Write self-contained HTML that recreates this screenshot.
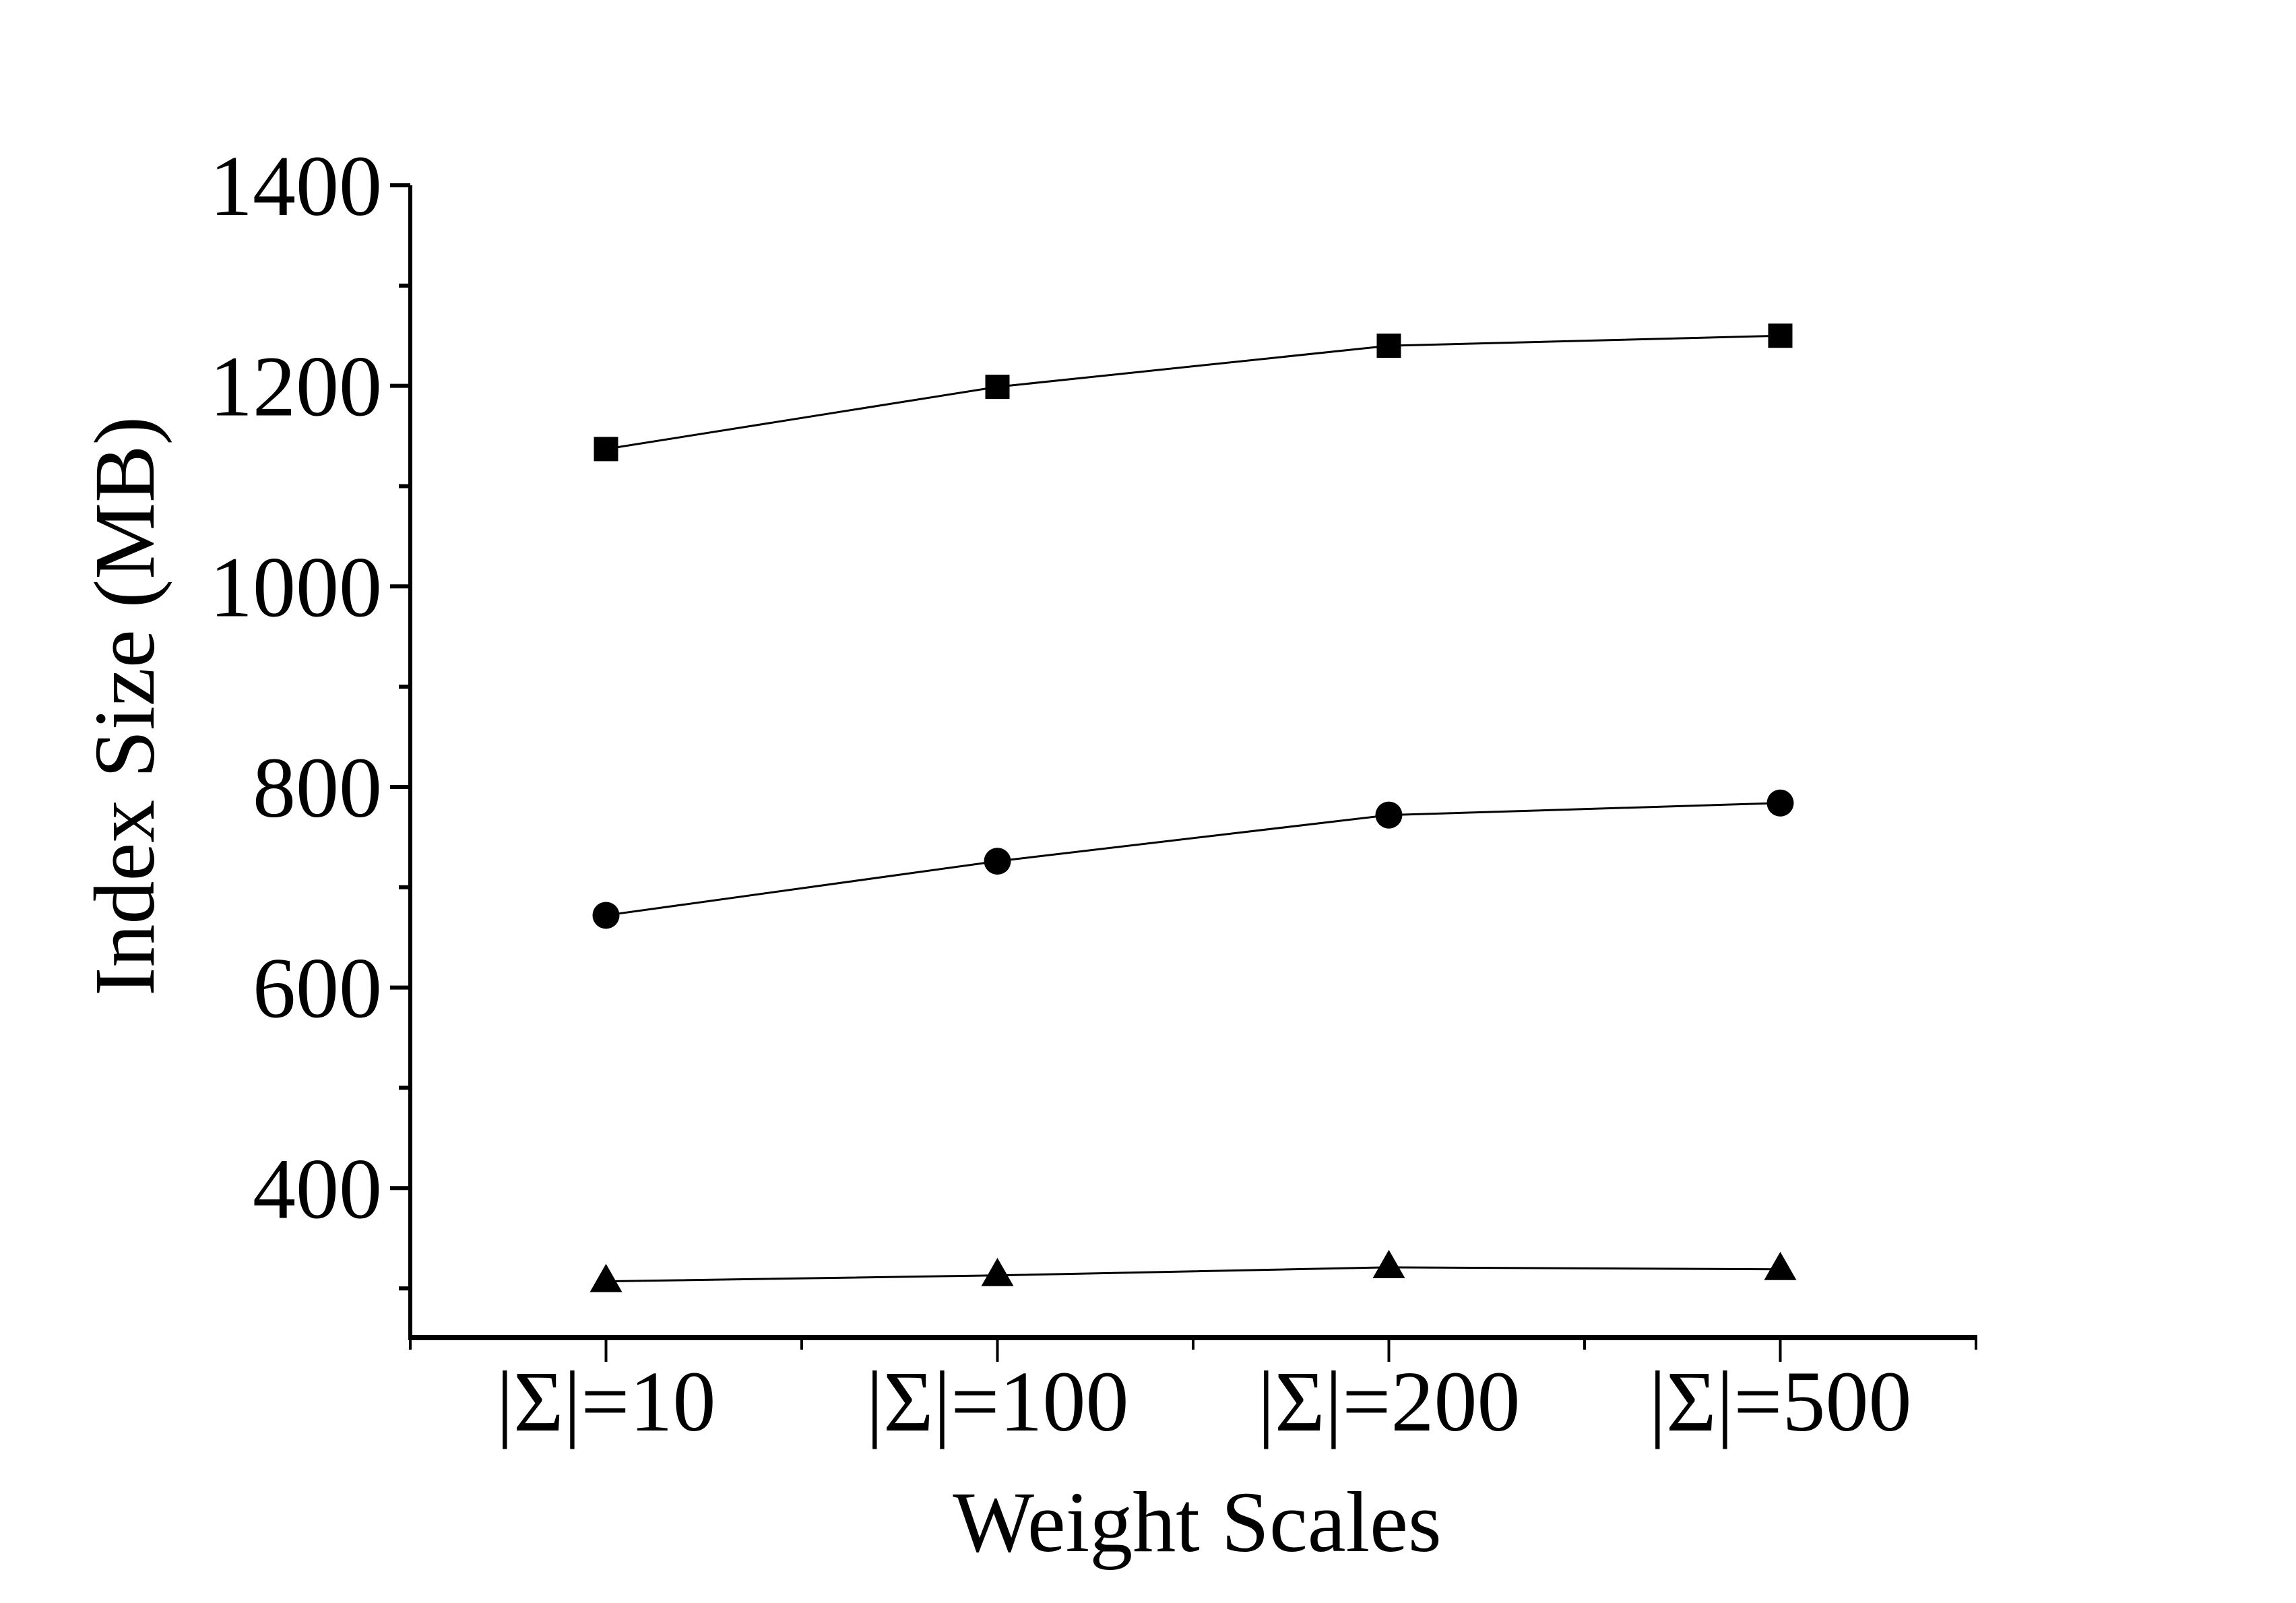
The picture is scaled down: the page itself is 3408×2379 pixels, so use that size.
<!DOCTYPE html>
<html><head><meta charset="utf-8"><style>
html,body{margin:0;padding:0;background:#fff;}
svg{display:block;font-family:"Liberation Serif",serif;}
</style></head><body>
<svg id="chart" width="3408" height="2379" viewBox="0 0 3408 2379" xmlns="http://www.w3.org/2000/svg">
<g id="axes"></g><g id="series"></g>
</svg>
<script>
const categories = ["|Σ|=10","|Σ|=100","|Σ|=200","|Σ|=500"];
const squareValues = [1137,1199,1240,1250];
const circleValues = [672,726,772,784];
const triangleValues = [307,313,321,319];
const yTicks = [400,600,800,1000,1200,1400];
const yMinorTicks = [300,500,700,900,1100,1300];

const NS="http://www.w3.org/2000/svg";
const X0=609, X1=2933, YB=1985, YT=275;
const yMin=251, yMax=1400;
function xPos(i){return X0+(i+0.5)*(X1-X0)/categories.length;}
function yPos(v){return YB-(v-yMin)*(YB-YT)/(yMax-yMin);}
function mk(tag,attrs,parent){const e=document.createElementNS(NS,tag);for(const k in attrs)e.setAttribute(k,attrs[k]);parent.appendChild(e);return e;}
const axes=document.getElementById('axes'), ser=document.getElementById('series');

let e=mk('line',{x1:X0,y1:YT,x2:X0,y2:YB,stroke:'#000','stroke-width':6},axes);


e=mk('line',{x1:X0-3,y1:YB,x2:X1+2,y2:YB,stroke:'#000','stroke-width':8},axes);



yTicks.forEach(v=>{
  const y=yPos(v);
  let t=mk('line',{x1:X0-30,y1:y,x2:X0,y2:y,stroke:'#000','stroke-width':6},axes);
  
  
  let l=mk('text',{x:567,y:y+44,'text-anchor':'end','font-size':128},axes);
  l.textContent=v;
  
  
});
yMinorTicks.forEach(v=>{
  const y=yPos(v);
  let t=mk('line',{x1:X0-17,y1:y,x2:X0,y2:y,stroke:'#000','stroke-width':6},axes);
  
  
});
for(let k=0;k<=categories.length*2;k++){
  const x=X0+k*(X1-X0)/(categories.length*2);
  const major=k%2===1;
  let t=mk('line',{x1:x,y1:YB,x2:x,y2:YB+(major?36:18),stroke:'#000','stroke-width':4},axes);
  
  
}
categories.forEach((c,i)=>{
  let l=mk('text',{x:xPos(i),y:2123,'text-anchor':'middle','font-size':128},axes);
  l.textContent=c;
  
  
});
let yl=mk('text',{x:0,y:0,'text-anchor':'middle','font-size':128,transform:'translate(228,1048) rotate(-90)'},axes);
yl.textContent='Index Size (MB)';


let xl=mk('text',{x:1777,y:2302,'text-anchor':'middle','font-size':128},axes);
xl.textContent='Weight Scales';



function drawSeries(vals,shape,name){
  const pts=vals.map((v,i)=>xPos(i)+','+yPos(v)).join(' ');
  let p=mk('polyline',{points:pts,fill:'none',stroke:'#000','stroke-width':3},ser);
  
  
  vals.forEach((v,i)=>{
    const x=xPos(i),y=yPos(v);let m;
    if(shape==='square') m=mk('rect',{x:x-18,y:y-18,width:36,height:36,fill:'#000'},ser);
    else if(shape==='circle') m=mk('circle',{cx:x,cy:y,r:20,fill:'#000'},ser);
    else m=mk('polygon',{points:`${x},${y-26} ${x-24},${y+16} ${x+24},${y+16}`,fill:'#000'},ser);
    
    
  });
}
drawSeries(squareValues,'square','square-series');
drawSeries(circleValues,'circle','circle-series');
drawSeries(triangleValues,'triangle','triangle-series');
</script>
</body></html>
